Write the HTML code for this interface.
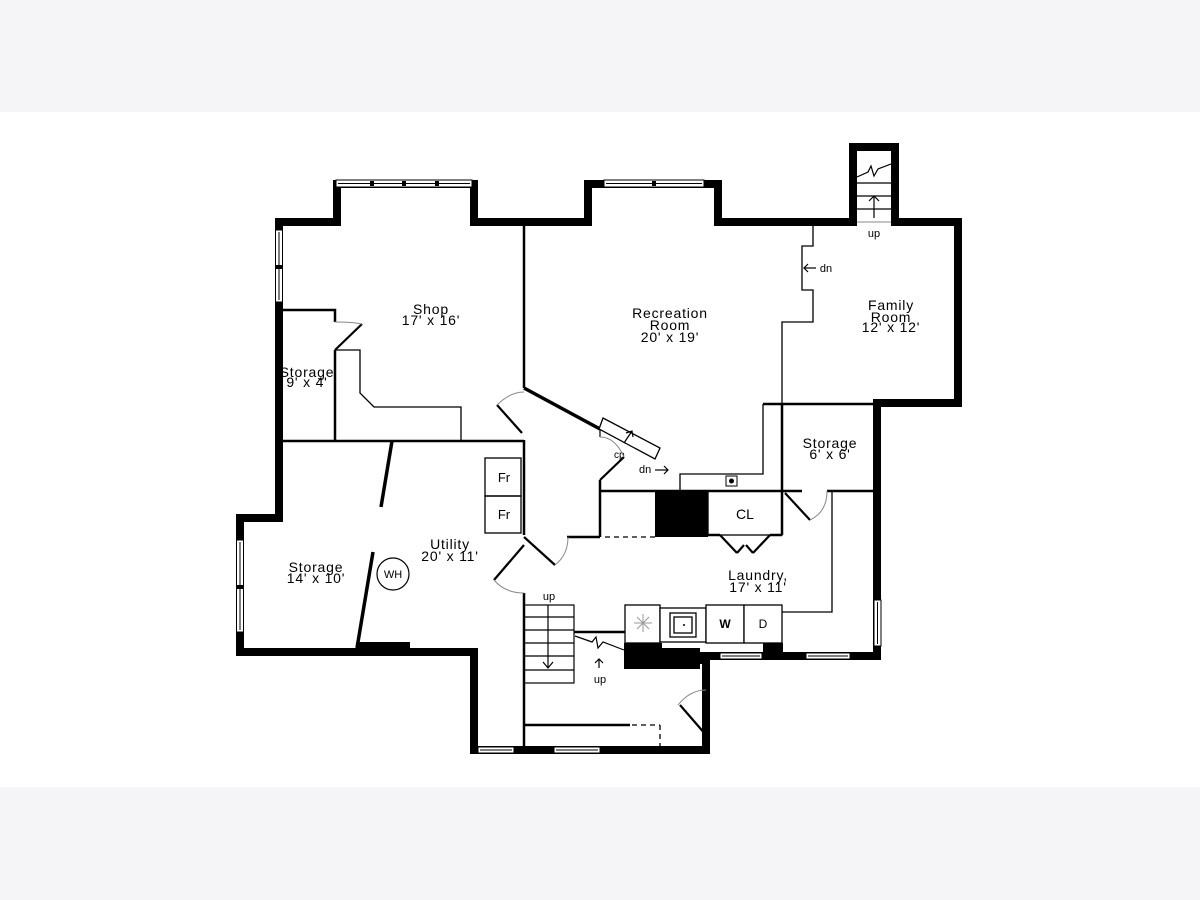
<!DOCTYPE html>
<html><head><meta charset="utf-8"><style>
html,body{margin:0;padding:0;background:#fff;}
svg{display:block;}
text{font-family:"Liberation Sans",sans-serif;fill:#000;}
</style></head><body>
<svg width="1200" height="900" viewBox="0 0 1200 900" xmlns="http://www.w3.org/2000/svg">
<rect x="0" y="0" width="1200" height="112" fill="#f5f4f6"/>
<rect x="0" y="787" width="1200" height="113" fill="#f5f4f6"/>

<path d="M279,222 L337,222 L337,184 L474,184 L474,222 L588,222 L588,184 L718,184 L718,222 L853,222 L853,147 L895,147 L895,222 L958,222 L958,403 L877,403 L877,656 L704,656 L704,660 L706,660 L706,750 L474,750 L474,652 L240,652 L240,518 L279,518 Z"
 fill="none" stroke="#000" stroke-width="8" stroke-linejoin="miter"/>

<g stroke="#000" stroke-width="1" fill="#fff">
 <rect x="336" y="180" width="136" height="7"/>
 <line x1="338" y1="183.5" x2="470" y2="183.5"/>
 <rect x="604" y="180" width="100" height="7"/>
 <line x1="606" y1="183.5" x2="702" y2="183.5"/>
 <rect x="275.5" y="230" width="7" height="72"/>
 <line x1="279" y1="232" x2="279" y2="300"/>
 <rect x="236.5" y="540" width="7" height="92"/>
 <line x1="240" y1="542" x2="240" y2="630"/>
 <rect x="874" y="600" width="7" height="46"/>
 <line x1="877.5" y1="602" x2="877.5" y2="644"/>
 <rect x="720" y="653" width="42" height="6"/>
 <line x1="722" y1="656" x2="760" y2="656"/>
 <rect x="806" y="653" width="44" height="6"/>
 <line x1="808" y1="656" x2="848" y2="656"/>
 <rect x="478" y="747" width="36" height="6"/>
 <line x1="480" y1="750" x2="512" y2="750"/>
 <rect x="554" y="747" width="46" height="6"/>
 <line x1="556" y1="750" x2="598" y2="750"/>
</g>
<g fill="#000">
 <rect x="370" y="181" width="4" height="5"/><rect x="402" y="181" width="4" height="5"/><rect x="435" y="181" width="4" height="5"/>
 <rect x="652" y="181" width="4" height="5"/>
 <rect x="276" y="265" width="6" height="4"/>
 <rect x="237" y="585" width="6" height="4"/>
</g>

<g stroke="#000" stroke-width="2.5" fill="none">
 <line x1="524" y1="222" x2="524" y2="388"/>
 <line x1="279" y1="441" x2="524" y2="441"/>
 <polyline points="279,310 335,310 335,322"/>
 <line x1="335" y1="350" x2="335" y2="441"/>
 <line x1="524" y1="440" x2="524" y2="535"/>
 <line x1="524" y1="593" x2="524" y2="750"/>
 <line x1="600" y1="480" x2="600" y2="537"/>
 <line x1="600" y1="491" x2="782" y2="491"/>
 <line x1="567" y1="537" x2="600" y2="537"/>
 <line x1="708" y1="535" x2="720" y2="535"/>
 <line x1="770" y1="535" x2="782" y2="535"/>
 <line x1="782" y1="404" x2="782" y2="535"/>
 <line x1="763" y1="404" x2="877" y2="404"/>
 <line x1="782" y1="491" x2="802" y2="491"/>
 <line x1="827" y1="491" x2="877" y2="491"/>
 <line x1="574" y1="632" x2="625" y2="632"/>
 <line x1="524" y1="725" x2="630" y2="725"/>
</g>
<g stroke="#000" stroke-width="1.3" fill="none">
 <polyline points="335,350 360,350 360,393 374,407 461,407 461,441"/>
 <polyline points="680,491 680,474 763,474 763,404"/>
 <polyline points="813,222 813,246 802,246 802,290 813,290 813,322 782,322 782,404"/>
 <polyline points="832,492 832,612 782,612"/>
 <rect x="485" y="458" width="36" height="38"/>
 <rect x="485" y="496" width="36" height="37"/>
 <rect x="708" y="491" width="74" height="44"/>
</g>
<g stroke="#000" stroke-width="1.3" fill="none" stroke-dasharray="5,4">
 <line x1="605" y1="537" x2="655" y2="537"/>
 <line x1="632" y1="725" x2="660" y2="725"/>
 <line x1="660" y1="725" x2="660" y2="748"/>
</g>

<g stroke="#000" stroke-width="3.5" fill="none">
 <line x1="524" y1="388" x2="600" y2="429"/>
 <line x1="392" y1="441" x2="381" y2="507"/>
 <line x1="373" y1="552" x2="357" y2="648"/>
</g>
<rect x="356" y="642" width="54" height="12" fill="#000"/>
<rect x="655" y="491" width="53" height="46" fill="#000"/>

<polygon points="603,418 660,448 655,459 599,429" fill="#fff" stroke="#000" stroke-width="1.3"/>
<g stroke="#000" stroke-width="1.2" fill="none">
 <line x1="624" y1="443" x2="632" y2="431"/>
 <polyline points="626,433 632,431 633,437"/>
</g>
<text x="614" y="458" font-size="10">cp</text>
<text x="639" y="473" font-size="11">dn</text>
<g stroke="#000" stroke-width="1.2" fill="none">
 <line x1="655" y1="470" x2="668" y2="470"/><polyline points="664,466 668,470 664,474"/>
 <line x1="600" y1="429" x2="600" y2="437"/>
</g>

<g stroke="#000" stroke-width="2.2" fill="none">
 <line x1="335" y1="350" x2="362" y2="324"/>
 <line x1="522" y1="433" x2="497" y2="405"/>
 <line x1="600" y1="480" x2="624" y2="457"/>
 <line x1="524" y1="537" x2="555" y2="565"/>
 <line x1="524" y1="545" x2="494" y2="580"/>
 <line x1="785" y1="493" x2="810" y2="520"/>
 <line x1="720" y1="535" x2="737" y2="553"/>
 <line x1="737" y1="553" x2="744" y2="545"/>
 <line x1="770" y1="535" x2="753" y2="553"/>
 <line x1="753" y1="553" x2="746" y2="545"/>
 <line x1="680" y1="705" x2="706" y2="735"/>
</g>
<g stroke="#888" stroke-width="1" fill="none">
 <path d="M335,322 Q352,322 362,324"/>
 <path d="M497,405 Q510,392 524,392"/>
 <path d="M600,437 Q615,437 624,457"/>
 <path d="M555,565 Q568,555 568,537"/>
 <path d="M494,580 Q505,593 524,593"/>
 <path d="M810,520 Q827,512 827,491"/>
 <path d="M678,705 Q690,690 706,690"/>
</g>

<g stroke="#000" stroke-width="1.2" fill="none">
 <line x1="857" y1="183" x2="891" y2="183"/>
 <line x1="857" y1="196" x2="891" y2="196"/>
 <line x1="857" y1="209" x2="891" y2="209"/>
 <line x1="874" y1="218" x2="874" y2="196"/><polyline points="869,201 874,196 879,201"/>
 <polyline points="857,177 868,172 871,166 874,176 878,169 891,164"/>
 <line x1="804" y1="268" x2="816" y2="268"/><polyline points="808,264 804,268 808,272"/>
</g>
<line x1="857" y1="222" x2="891" y2="222" stroke="#888" stroke-width="1"/>

<g stroke="#000" stroke-width="1.2" fill="none">
 <rect x="524" y="605" width="50" height="78"/>
 <line x1="524" y1="617" x2="574" y2="617"/>
 <line x1="524" y1="630" x2="574" y2="630"/>
 <line x1="524" y1="643" x2="574" y2="643"/>
 <line x1="524" y1="656" x2="574" y2="656"/>
 <line x1="524" y1="670" x2="574" y2="670"/>
 <line x1="548" y1="605" x2="548" y2="668"/><polyline points="543,662 548,668 553,662"/>
 <polyline points="575,636 592,642 596,637 598,648 603,642 624,650"/>
 <line x1="599" y1="668" x2="599" y2="659"/><polyline points="595,663 599,659 603,663"/>
</g>
<path d="M624,643 L662,643 L662,648 L700,648 L700,669 L624,669 Z" fill="#000"/>
<rect x="763" y="643" width="20" height="15" fill="#000"/>

<g stroke="#000" stroke-width="1.3" fill="#fff">
 <rect x="625" y="605" width="35" height="38"/>
 <rect x="660" y="608" width="46" height="34"/>
 <rect x="706" y="605" width="38" height="38"/>
 <rect x="744" y="605" width="38" height="38"/>
 <rect x="670" y="613" width="26" height="24"/>
 <rect x="674" y="617" width="18" height="16"/>
</g>
<circle cx="684" cy="625" r="1" fill="#000"/>
<g stroke="#999" stroke-width="1">
 <line x1="634" y1="623" x2="652" y2="623"/><line x1="643" y1="614" x2="643" y2="632"/>
 <line x1="637" y1="617" x2="649" y2="629"/><line x1="649" y1="617" x2="637" y2="629"/>
</g>
<rect x="726" y="476" width="11" height="10" fill="#fff" stroke="#000" stroke-width="1"/>
<circle cx="731.5" cy="481" r="2.5" fill="#000"/>

<circle cx="393" cy="574" r="16" fill="none" stroke="#000" stroke-width="1.2"/>

<g font-size="14" text-anchor="middle" letter-spacing="0.8">
 <text x="431" y="314">Shop</text>
 <text x="431" y="325">17' x 16'</text>
 <text x="307" y="377">Storage</text>
 <text x="307" y="387">9' x 4'</text>
 <text x="670" y="318">Recreation</text>
 <text x="670" y="330">Room</text>
 <text x="670" y="342">20' x 19'</text>
 <text x="891" y="310">Family</text>
 <text x="891" y="322">Room</text>
 <text x="891" y="332">12' x 12'</text>
 <text x="830" y="448">Storage</text>
 <text x="830" y="459">6' x 6'</text>
 <text x="450" y="549">Utility</text>
 <text x="450" y="561">20' x 11'</text>
 <text x="316" y="572">Storage</text>
 <text x="316" y="583">14' x 10'</text>
 <text x="758" y="580">Laundry,</text>
 <text x="758" y="592">17' x 11'</text>
</g>
<g font-size="13" text-anchor="middle">
 <text x="745" y="519" font-size="14">CL</text>
 <text x="504" y="482">Fr</text>
 <text x="504" y="519">Fr</text>
 <text x="725" y="628" font-size="12" font-weight="bold">W</text>
 <text x="763" y="628" font-size="12">D</text>
 <text x="393" y="578" font-size="11">WH</text>
</g>
<g font-size="11" text-anchor="middle">
 <text x="874" y="237">up</text>
 <text x="826" y="272">dn</text>
 <text x="549" y="600">up</text>
 <text x="600" y="683">up</text>
</g>
</svg>
</body></html>
